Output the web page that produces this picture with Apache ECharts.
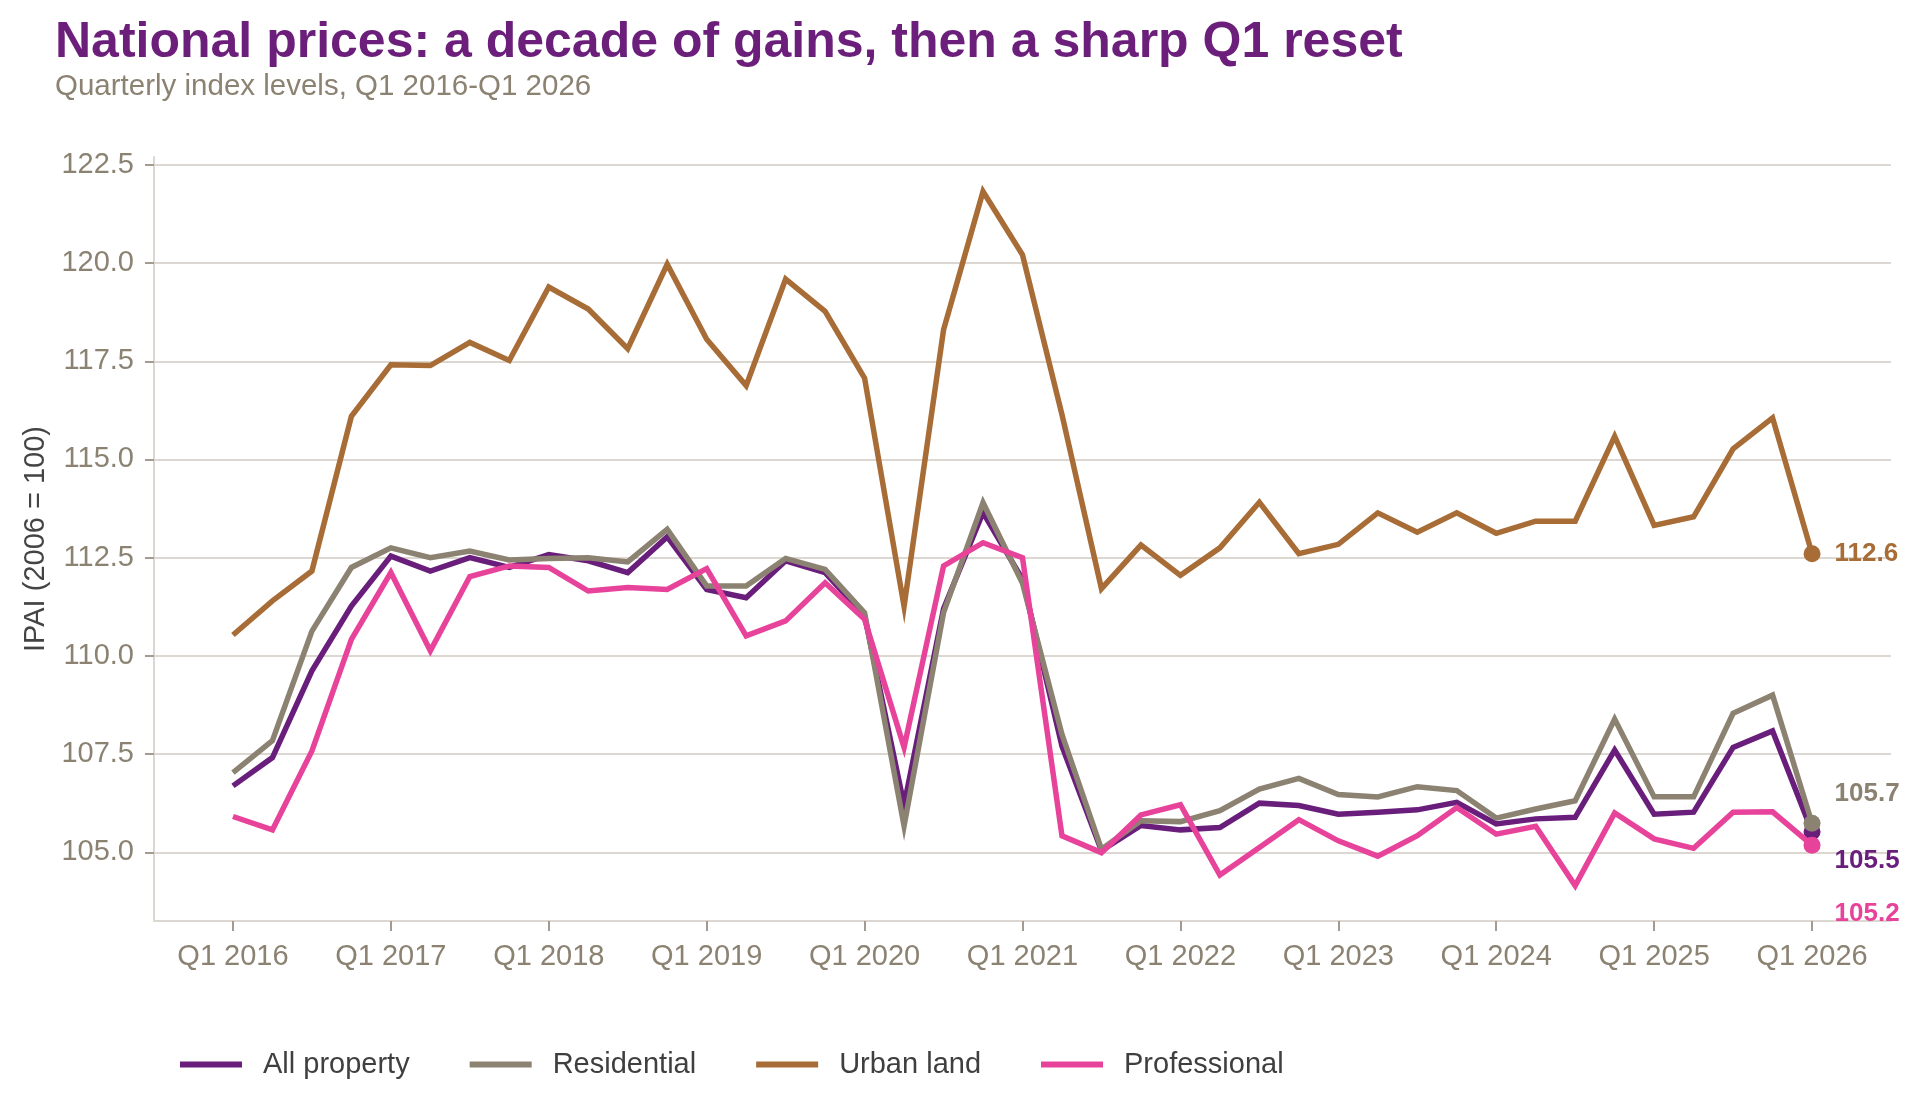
<!DOCTYPE html>
<html>
<head>
<meta charset="utf-8">
<title>National prices</title>
<script src="https://cdn.jsdelivr.net/npm/echarts@6/dist/echarts.min.js"></script>
<style>
  html, body { margin: 0; padding: 0; background: #fff; }
  #chart { width: 1920px; height: 1113px; }
</style>
</head>
<body>
<div id="chart"></div>
<script>
// quarters from Q1 2016 to Q1 2026, index 0..40
var firstYear = 2016;

var seriesNames = ['All property', 'Residential', 'Urban land', 'Professional'];
var seriesColors = ['#6A1E7C', '#8B8272', '#A86C36', '#E8439A'];

var allProperty = [106.69, 107.41, 109.62, 111.27, 112.54, 112.16, 112.50, 112.25, 112.58, 112.42, 112.12, 113.03,
  111.69, 111.48, 112.42, 112.12, 111.02, 106.20, 111.20, 113.65, 111.95, 107.70,
  105.04, 105.68, 105.57, 105.63, 106.25, 106.19, 105.97, 106.02, 106.08, 106.27, 105.72,
  105.85, 105.89, 107.60, 105.97, 106.02, 107.67, 108.09, 105.52];

var residential = [107.03, 107.84, 110.63, 112.25, 112.75, 112.50, 112.67, 112.44, 112.48, 112.50, 112.39, 113.22,
  111.78, 111.78, 112.48, 112.20, 111.10, 105.67, 111.10, 113.90, 111.85, 108.00,
  105.08, 105.80, 105.78, 106.06, 106.61, 106.88, 106.47, 106.41, 106.67, 106.57, 105.87,
  106.10, 106.31, 108.39, 106.41, 106.41, 108.54, 109.00, 105.74];

var urbanLand = [110.53, 111.40, 112.16, 116.10, 117.41, 117.39, 117.98, 117.52, 119.39, 118.83, 117.82, 119.97,
  118.06, 116.88, 119.59, 118.77, 117.07, 111.26, 118.30, 121.82, 120.21, 116.14,
  111.71, 112.82, 112.05, 112.75, 113.91, 112.60, 112.84, 113.64, 113.15, 113.64, 113.12,
  113.43, 113.43, 115.59, 113.32, 113.54, 115.27, 116.06, 112.60];

var professional = [105.91, 105.57, 107.58, 110.42, 112.12, 110.13, 112.02, 112.29, 112.25, 111.65, 111.74, 111.69,
  112.22, 110.51, 110.89, 111.86, 110.93, 107.67, 112.29, 112.88, 112.50, 105.42,
  104.99, 105.95, 106.21, 104.42, 105.12, 105.83, 105.29, 104.90, 105.42, 106.14, 105.46,
  105.66, 104.15, 106.00, 105.34, 105.10, 106.02, 106.03, 105.18];

// tick positions
var xTickValues = [0, 4, 8, 12, 16, 20, 24, 28, 32, 36, 40];
var yTickValues = [105, 107.5, 110, 112.5, 115, 117.5, 120, 122.5];

// vertical nudge of the end labels so they don't collide
var endLabelShift = [29, -29, 0, 69];

var font = 'Liberation Sans, Arial, Helvetica, sans-serif';
var tickGrey = '#8B8272';
var lineGrey = '#DCD8D1';

function buildSeries(k, values) {
  var last = values.length - 1;
  var data = values.map(function (v, i) {
    var item = { value: [i, v] };
    if (i === last) {
      item.label = {
        show: true,
        position: 'right',
        distance: 14,
        offset: [0, endLabelShift[k]],
        formatter: function (p) { return p.value[1].toFixed(1); },
        color: seriesColors[k],
        fontFamily: font,
        fontWeight: 'bold',
        fontSize: 26
      };
    }
    return item;
  });
  return {
    name: seriesNames[k],
    type: 'line',
    data: data,
    symbol: 'circle',
    symbolSize: function (val, p) { return p.dataIndex === last ? 17 : 0; },
    showSymbol: true,
    color: seriesColors[k],
    lineStyle: { width: 5.5, color: seriesColors[k], join: 'miter' },
    itemStyle: { color: seriesColors[k] },
    emphasis: { disabled: true },
    animation: false,
    z: 2 + k
  };
}

var chart = echarts.init(document.getElementById('chart'));

var option = {
  backgroundColor: '#ffffff',
  animation: false,
  title: [
    {
      text: 'National prices: a decade of gains, then a sharp Q1 reset',
      left: 55,
      top: 18,
      padding: 0,
      textStyle: { fontFamily: font, fontSize: 50, fontWeight: 'bold', color: '#6B1F7B' }
    },
    {
      text: 'Quarterly index levels, Q1 2016-Q1 2026',
      left: 55,
      top: 72,
      padding: 0,
      textStyle: { fontFamily: font, fontSize: 29.5, fontWeight: 'normal', color: tickGrey }
    }
  ],
  legend: {
    data: seriesNames,
    left: 180,
    top: 1050,
    padding: 0,
    icon: 'rect',
    itemWidth: 62,
    itemHeight: 6,
    itemGap: 60,
    textStyle: { fontFamily: font, fontSize: 29, color: '#3F3F3F', padding: [0, 0, 0, 16] }
  },
  grid: { left: 154, right: 29, top: 157, bottom: 192, containLabel: false },
  xAxis: {
    type: 'value',
    min: -2,
    max: 42,
    axisLine: { show: true, onZero: false, lineStyle: { color: lineGrey, width: 2 } },
    axisTick: { show: true, customValues: xTickValues, length: 10, lineStyle: { color: '#A39B8F', width: 2 } },
    axisLabel: {
      customValues: xTickValues,
      margin: 21,
      fontFamily: font,
      fontSize: 29,
      color: tickGrey,
      formatter: function (v) { return 'Q1 ' + (firstYear + Math.round(v / 4)); }
    },
    splitLine: { show: false }
  },
  yAxis: {
    type: 'value',
    min: 103.25,
    max: 122.7,
    name: 'IPAI (2006 = 100)',
    nameLocation: 'middle',
    nameGap: 104,
    nameTextStyle: { fontFamily: font, fontSize: 29, color: '#444444' },
    axisLine: { show: true, onZero: false, lineStyle: { color: lineGrey, width: 2 } },
    axisTick: { show: true, customValues: yTickValues, length: 9, lineStyle: { color: '#A39B8F', width: 2 } },
    axisLabel: {
      customValues: yTickValues,
      margin: 20,
      fontFamily: font,
      fontSize: 29,
      color: tickGrey,
      formatter: function (v) { return v.toFixed(1); }
    },
    splitLine: { show: true, customValues: yTickValues, lineStyle: { color: lineGrey, width: 2 } }
  },
  series: [
    buildSeries(0, allProperty),
    buildSeries(1, residential),
    buildSeries(2, urbanLand),
    buildSeries(3, professional)
  ]
};

chart.setOption(option);
window.onresize = chart.resize;
</script>
</body>
</html>
